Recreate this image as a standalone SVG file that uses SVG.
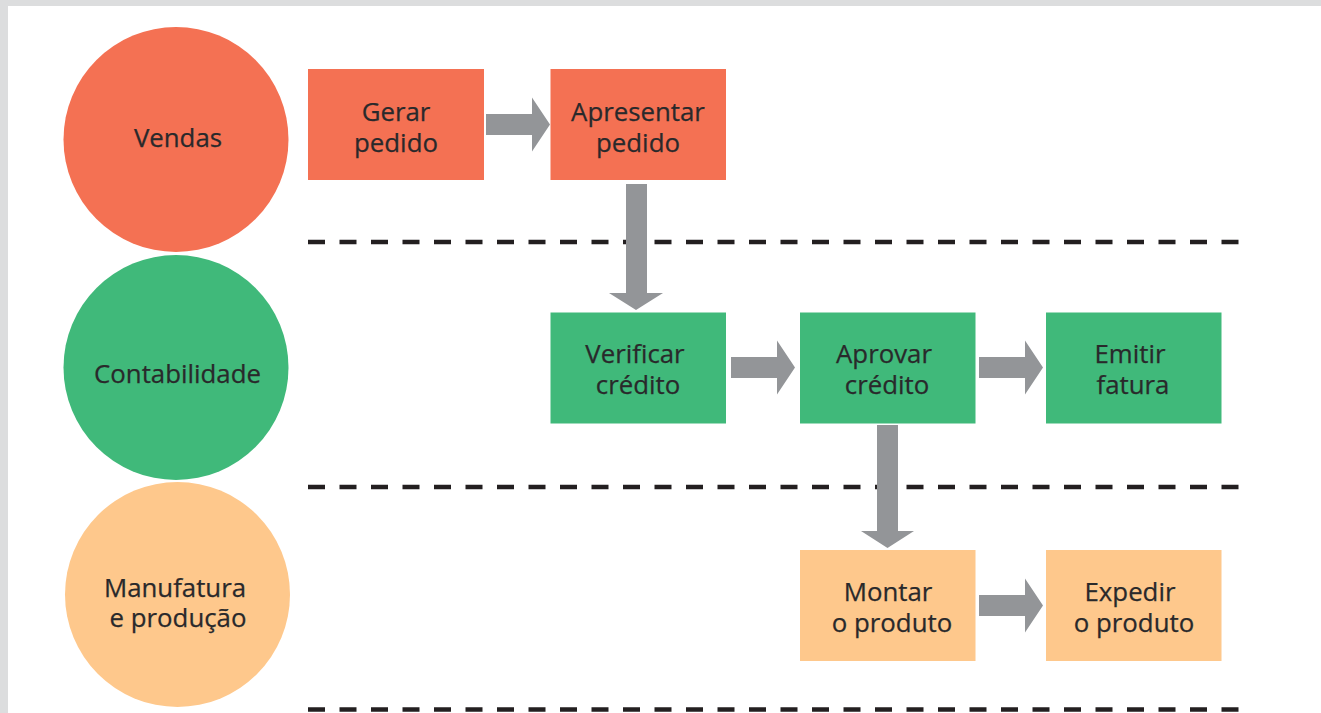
<svg xmlns="http://www.w3.org/2000/svg" width="1321" height="713" viewBox="0 0 1321 713">
<style>
text{font-family:"Open Sans","Noto Sans",sans-serif;font-size:25.8px;fill:#29292b;text-anchor:middle;stroke:#29292b;stroke-width:.25}
.r{fill:#f47153}.g{fill:#40b97a}.o{fill:#fec88c}
.d{stroke:#231f20;stroke-width:4.5;stroke-dasharray:17 14.5;fill:none}
.a{fill:#939598}
</style>
<defs>
<polygon id="ah" class="a" points="0,-10.500 46,-10.500 46,-27 64,0 46,27 46,10.500 0,10.500"/>
</defs>
<rect width="1321" height="713" fill="#dcddde"/>
<rect x="8" y="6" width="1313" height="707" fill="#fff"/>
<g id="dividers">
<line class="d" x1="308" y1="242" x2="1240" y2="242"/>
<line class="d" x1="308" y1="487" x2="1240" y2="487"/>
<line class="d" x1="308" y1="709.500" x2="1240" y2="709.500"/>
</g>
<g id="connectors">
<use href="#ah" transform="translate(486 124.500)"/>
<use href="#ah" transform="translate(731 367.500)"/>
<use href="#ah" transform="translate(979 367.500)"/>
<use href="#ah" transform="translate(979 605.500)"/>
<polygon class="a" points="626,184 647,184 647,293 663,293 636,310 609,293 626,293"/>
<polygon class="a" points="877,425 898,425 898,531 914,531 887.500,548 861,531 877,531"/>
</g>
<g id="vendas"><circle class="r" cx="176" cy="139.500" r="112.500"/><text x="178" y="147">Vendas</text></g>
<g id="contabilidade"><circle class="g" cx="176" cy="367.500" r="112.500"/><text x="177.500" y="383">Contabilidade</text></g>
<g id="manufatura"><circle class="o" cx="177.500" cy="594.500" r="112.500"/><text x="175" y="597">Manufatura</text><text x="178" y="627">e produção</text></g>
<g id="gerar"><rect class="r" x="308" y="69" width="176" height="111"/><text x="396" y="121">Gerar</text><text x="396" y="152">pedido</text></g>
<g id="apresentar"><rect class="r" x="550.500" y="69" width="175.500" height="111"/><text x="638" y="121">Apresentar</text><text x="638" y="152">pedido</text></g>
<g id="verificar"><rect class="g" x="550.500" y="312.500" width="175.500" height="111"/><text x="635" y="363">Verificar</text><text x="638" y="394">crédito</text></g>
<g id="aprovar"><rect class="g" x="800" y="312.500" width="175.500" height="111"/><text x="884" y="363">Aprovar</text><text x="887" y="394">crédito</text></g>
<g id="emitir"><rect class="g" x="1046" y="312.500" width="175.500" height="111"/><text x="1130" y="363">Emitir</text><text x="1133" y="394">fatura</text></g>
<g id="montar"><rect class="o" x="800" y="550" width="175.500" height="111"/><text x="888" y="601">Montar</text><text x="892" y="632">o produto</text></g>
<g id="expedir"><rect class="o" x="1046" y="550" width="175.500" height="111"/><text x="1130" y="601">Expedir</text><text x="1134" y="632">o produto</text></g>
</svg>
